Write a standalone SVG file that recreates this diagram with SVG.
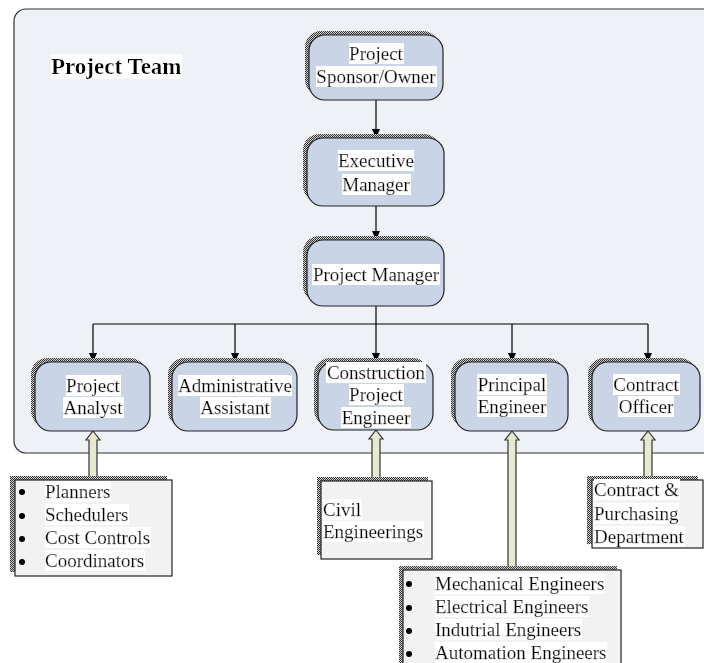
<svg xmlns="http://www.w3.org/2000/svg" width="704" height="663" viewBox="0 0 704 663">
<defs>
<pattern id="dots" width="2" height="2" patternUnits="userSpaceOnUse">
<rect width="2" height="2" fill="#d0d0d0"/>
<rect width="1" height="1" fill="#333"/>
<rect x="1" y="1" width="1" height="1" fill="#333"/>
</pattern>
<filter id="hl" x="0" y="0" width="1" height="1">
<feFlood flood-color="#ffffff"/>
<feComposite in="SourceGraphic"/>
</filter>
<marker id="ah" markerWidth="10" markerHeight="10" refX="9" refY="5" orient="auto" markerUnits="userSpaceOnUse">
<path d="M0,1 L9,5 L0,9 Z" fill="#000"/>
</marker>
</defs>
<style>
.shadow{fill:url(#dots);stroke:none}
.node{fill:#c9d5e6;stroke:#222;stroke-width:1.2}
.list{fill:#f2f2f2;stroke:#222;stroke-width:1.2}
.t{font-family:"Liberation Serif","Times New Roman",serif;font-size:19px;fill:#000;stroke:#000;stroke-width:0.25;filter:url(#hl)}
.c{text-anchor:middle}
.conn{stroke:#000;stroke-width:1.2;fill:none}
.block{fill:#e6e8d0;stroke:#333;stroke-width:1.2}
</style>
<rect x="14" y="9" width="730" height="444" rx="12" fill="#eef1f6" stroke="#333" stroke-width="1.2"/>
<text x="51" y="74" font-family="Liberation Serif,serif" font-size="23" font-weight="bold" fill="#000" filter="url(#hl)">Project Team</text>

<g id="connectors">
<line class="conn" x1="376" y1="100" x2="376" y2="138" marker-end="url(#ah)"/>
<line class="conn" x1="376" y1="206" x2="376" y2="240" marker-end="url(#ah)"/>
<line class="conn" x1="376" y1="306" x2="376" y2="324"/>
<line class="conn" x1="93" y1="324" x2="648" y2="324"/>
<line class="conn" x1="93" y1="324" x2="93" y2="362" marker-end="url(#ah)"/>
<line class="conn" x1="235" y1="324" x2="235" y2="362" marker-end="url(#ah)"/>
<line class="conn" x1="376" y1="324" x2="376" y2="362" marker-end="url(#ah)"/>
<line class="conn" x1="512" y1="324" x2="512" y2="362" marker-end="url(#ah)"/>
<line class="conn" x1="648" y1="324" x2="648" y2="362" marker-end="url(#ah)"/>
<polygon class="block" points="93,431 100,440 97,440 97,481 89,481 89,440 86,440"/>
<polygon class="block" points="376,430 383,439 380,439 380,481 372,481 372,439 369,439"/>
<polygon class="block" points="512,431 519,440 516,440 516,570 508,570 508,440 505,440"/>
<polygon class="block" points="648,431 655,440 652,440 652,480 644,480 644,440 641,440"/>
</g>

<g id="sponsor">
<rect class="shadow" x="305" y="31" width="134" height="65" rx="16"/>
<rect class="node" x="309" y="35" width="134" height="65" rx="16"/>
<text class="t c" x="376" y="60">Project</text>
<text class="t c" x="376" y="83">Sponsor/Owner</text>
</g>
<g id="executive">
<rect class="shadow" x="303" y="134" width="137" height="68" rx="16"/>
<rect class="node" x="307" y="138" width="137" height="68" rx="16"/>
<text class="t c" x="376" y="167">Executive</text>
<text class="t c" x="376" y="191">Manager</text>
</g>
<g id="pm">
<rect class="shadow" x="303" y="236" width="137" height="66" rx="16"/>
<rect class="node" x="307" y="240" width="137" height="66" rx="16"/>
<text class="t c" x="376" y="281">Project Manager</text>
</g>
<g id="analyst">
<rect class="shadow" x="31" y="358" width="115" height="69" rx="16"/>
<rect class="node" x="35" y="362" width="115" height="69" rx="16"/>
<text class="t c" x="93" y="392">Project</text>
<text class="t c" x="93" y="414">Analyst</text>
</g>
<g id="admin">
<rect class="shadow" x="168" y="358" width="125" height="69" rx="16"/>
<rect class="node" x="172" y="362" width="125" height="69" rx="16"/>
<text class="t c" x="235" y="392">Administrative</text>
<text class="t c" x="235" y="414">Assistant</text>
</g>
<g id="construction">
<rect class="shadow" x="314" y="358" width="115" height="68" rx="16"/>
<rect class="node" x="318" y="362" width="115" height="68" rx="16"/>
<text class="t c" x="376" y="379">Construction</text>
<text class="t c" x="376" y="401">Project</text>
<text class="t c" x="376" y="424">Engineer</text>
</g>
<g id="principal">
<rect class="shadow" x="451" y="358" width="113" height="69" rx="16"/>
<rect class="node" x="455" y="362" width="113" height="69" rx="16"/>
<text class="t c" x="512" y="391">Principal</text>
<text class="t c" x="512" y="413">Engineer</text>
</g>
<g id="contract">
<rect class="shadow" x="588" y="358" width="108" height="69" rx="16"/>
<rect class="node" x="592" y="362" width="108" height="69" rx="16"/>
<text class="t c" x="646" y="391">Contract</text>
<text class="t c" x="646" y="413">Officer</text>
</g>

<g id="list-analyst">
<rect class="shadow" x="10" y="476" width="157" height="96"/>
<rect class="list" x="15" y="480" width="157" height="96"/>
<circle cx="22" cy="492" r="3" fill="#000"/>
<circle cx="22" cy="516" r="3" fill="#000"/>
<circle cx="22" cy="539" r="3" fill="#000"/>
<circle cx="22" cy="562" r="3" fill="#000"/>
<text class="t" x="45" y="498">Planners</text>
<text class="t" x="45" y="521">Schedulers</text>
<text class="t" x="45" y="544">Cost Controls</text>
<text class="t" x="45" y="567">Coordinators</text>
</g>
<g id="list-civil">
<rect class="shadow" x="317" y="477" width="111" height="78"/>
<rect class="list" x="321" y="481" width="111" height="78"/>
<text class="t" x="323" y="516">Civil</text>
<text class="t" x="323" y="538">Engineerings</text>
</g>
<g id="list-principal">
<rect class="shadow" x="399" y="566" width="218" height="110"/>
<rect class="list" x="403" y="570" width="218" height="110"/>
<circle cx="409" cy="584" r="3" fill="#000"/>
<circle cx="409" cy="608" r="3" fill="#000"/>
<circle cx="409" cy="631" r="3" fill="#000"/>
<circle cx="409" cy="654" r="3" fill="#000"/>
<text class="t" x="435" y="590">Mechanical Engineers</text>
<text class="t" x="435" y="613">Electrical Engineers</text>
<text class="t" x="435" y="636">Indutrial Engineers</text>
<text class="t" x="435" y="659">Automation Engineers</text>
</g>
<g id="list-contract">
<rect class="shadow" x="587" y="476" width="111" height="68"/>
<rect class="list" x="592" y="480" width="111" height="68"/>
<text class="t" x="594" y="496">Contract &amp;</text>
<text class="t" x="594" y="520">Purchasing</text>
<text class="t" x="594" y="543">Department</text>
</g>
</svg>
